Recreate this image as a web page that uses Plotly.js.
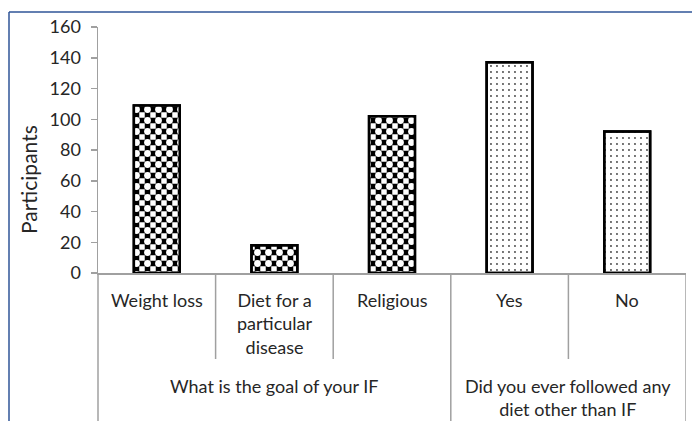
<!DOCTYPE html>
<html><head><meta charset="utf-8">
<script src="https://cdn.plot.ly/plotly-3.0.1.min.js"></script>
<style>html,body{margin:0;padding:0;background:#fff}#c{width:692px;height:421px}</style>
</head><body><div id="c"></div>
<script>
// Data
const categories = ["Weight loss", "Diet for a particular disease", "Religious", "Yes", "No"];
const tickLabels = ["Weight loss", "Diet for a<br>particular<br>disease", "Religious", "Yes", "No"];
const participants = [109, 18, 102, 137, 92];
const groupLabels = ["What is the goal of your IF", "Did you ever followed any<br>diet other than IF"];
const groupStart = [0, 3];
const groupEnd = [2, 4];
const yTicks = [0, 20, 40, 60, 80, 100, 120, 140, 160];
const yTitle = "Participants";

const FONT = "Lato, 'Open Sans', sans-serif";
const TXT = "#262626";
const AX = "#a0a0a0";
const plotBot = 273, H = 246, L = 98, W = 588;
const py = px => (plotBot - px) / H;
const pxX = px => (px - L) / W;

const isGoal = participants.map((v, i) => i < 3);
const CHK = 11;

const baseTrace = {
  type: "bar", x: categories, y: participants,
  marker: {
    color: "#fff",
    line: {color: "#000", width: 2.5},
    pattern: {
      shape: isGoal.map(g => g ? "+" : "."),
      fgcolor: isGoal.map(g => g ? "#000" : "#444"),
      bgcolor: "#fff",
      size: isGoal.map(g => g ? CHK : 6),
      solidity: isGoal.map(g => g ? 0.75 : 0.08),
      fillmode: "replace"
    }
  },
  hoverinfo: "skip"
};
const overTrace = {
  type: "bar", x: categories, y: participants,
  marker: {
    color: "rgba(0,0,0,0)",
    line: {color: "#000", width: 2.5},
    pattern: {
      shape: isGoal.map(g => g ? "." : ""),
      fgcolor: "#fff",
      bgcolor: "rgba(0,0,0,0)",
      size: CHK,
      solidity: 0.3,
      fillmode: "replace"
    }
  },
  hoverinfo: "skip"
};

const annotations = [];
categories.forEach((c, i) => {
  annotations.push({x: c, xref: "x", y: py(288), yref: "paper", yanchor: "top", xanchor: "center",
    text: tickLabels[i], showarrow: false, borderpad: 0, font: {family: FONT, size: 18, color: TXT}});
});
groupLabels.forEach((g, k) => {
  annotations.push({x: (groupStart[k] + groupEnd[k]) / 2, xref: "x", y: py(374), yref: "paper", yanchor: "top", xanchor: "center",
    text: g, showarrow: false, borderpad: 0, font: {family: FONT, size: 18, color: TXT}});
});
annotations.push({x: pxX(28), xref: "paper", y: py(180), yref: "paper", xanchor: "center", yanchor: "middle",
  text: yTitle, textangle: -90, showarrow: false, font: {family: FONT, size: 21, color: TXT}});

const shapes = [];
for (let i = 0; i < categories.length - 1; i++) {
  const isGroup = groupEnd.includes(i);
  shapes.push({type: "line", xref: "x", yref: "paper", x0: i + 0.5, x1: i + 0.5, y0: 0, y1: isGroup ? py(421) : py(359),
    line: {color: AX, width: 1.5}});
}
shapes.push({type: "line", xref: "x", yref: "paper", x0: categories.length - 0.5, x1: categories.length - 0.5, y0: 0, y1: py(421), line: {color: AX, width: 1.5}});
shapes.push({type: "line", xref: "paper", yref: "paper", x0: 0, x1: 0, y0: 0, y1: py(421), line: {color: AX, width: 1.5}});
shapes.push({type: "line", xref: "paper", yref: "paper", x0: pxX(9), x1: pxX(692), y0: py(12), y1: py(12), line: {color: "#2f5597", width: 1.5}});
shapes.push({type: "line", xref: "paper", yref: "paper", x0: pxX(9), x1: pxX(9), y0: py(12), y1: py(421), line: {color: "#2f5597", width: 1.5}});

const layout = {
  width: 692, height: 421,
  margin: {l: 98, r: 6, t: 27, b: 148, pad: 0},
  paper_bgcolor: "#fff", plot_bgcolor: "#fff",
  barmode: "overlay",
  bargap: 0.61,
  showlegend: false,
  xaxis: {type: "category", categoryarray: categories, showticklabels: false, ticks: "", showline: true, linecolor: AX, linewidth: 1.5,
    showgrid: false, zeroline: false, range: [-0.5, categories.length - 0.5], fixedrange: true},
  yaxis: {range: [0, 160], tickvals: yTicks, ticks: "outside", ticklen: 6, tickcolor: AX, tickwidth: 1.5,
    showline: true, linecolor: AX, linewidth: 1.5, showgrid: false, zeroline: false, ticklabelstandoff: 6,
    tickfont: {family: FONT, size: 18, color: TXT}, fixedrange: true},
  annotations: annotations,
  shapes: shapes
};
Plotly.newPlot("c", [baseTrace, overTrace], layout, {displayModeBar: false, staticPlot: true});
</script></body></html>
